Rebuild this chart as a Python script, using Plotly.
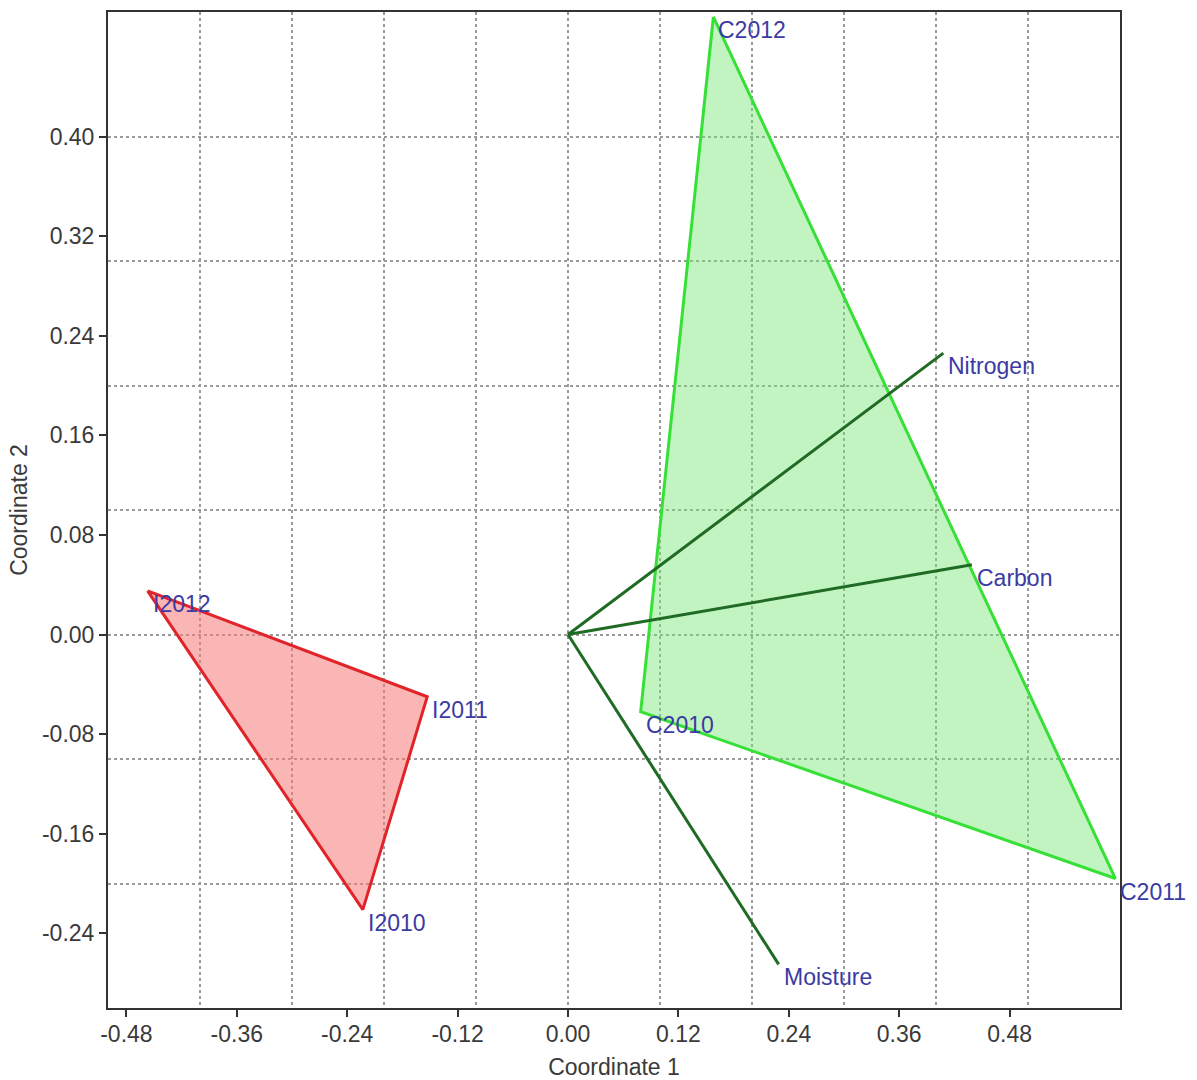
import plotly.graph_objects as go

# ---- data ----
impact_labels = ["I2012", "I2011", "I2010"]
impact_x = [-0.457, -0.153, -0.223]
impact_y = [0.035, -0.050, -0.221]

control_labels = ["C2012", "C2011", "C2010"]
control_x = [0.158, 0.595, 0.079]
control_y = [0.496, -0.196, -0.062]

vector_labels = ["Nitrogen", "Carbon", "Moisture"]
vector_x = [0.408, 0.439, 0.229]
vector_y = [0.226, 0.056, -0.265]

x_ticks = [-0.48, -0.36, -0.24, -0.12, 0.00, 0.12, 0.24, 0.36, 0.48]
y_ticks = [-0.24, -0.16, -0.08, 0.00, 0.08, 0.16, 0.24, 0.32, 0.40]
x_range = [-0.5, 0.6]
y_range = [-0.3, 0.5]

FONT = "Liberation Sans, Arial, sans-serif"
LABEL_COLOR = "#3b3ba3"
TICK_COLOR = "#3a3a3a"
FS = 23

fig = go.Figure()

# grid carrier (overlay axes with 0.1 grid)
fig.add_trace(go.Scatter(x=[], y=[], xaxis="x2", yaxis="y2", showlegend=False, hoverinfo="skip"))

# impact polygon
fig.add_trace(go.Scatter(
    x=impact_x + impact_x[:1], y=impact_y + impact_y[:1],
    mode="lines", fill="toself",
    fillcolor="rgba(245,120,120,0.55)",
    line=dict(color="#e0242a", width=3),
    showlegend=False, hoverinfo="skip"))

# control polygon
fig.add_trace(go.Scatter(
    x=control_x + control_x[:1], y=control_y + control_y[:1],
    mode="lines", fill="toself",
    fillcolor="rgba(120,230,120,0.45)",
    line=dict(color="#36e036", width=3),
    showlegend=False, hoverinfo="skip"))

# biplot vectors
for vx, vy in zip(vector_x, vector_y):
    fig.add_trace(go.Scatter(
        x=[0, vx], y=[0, vy], mode="lines",
        line=dict(color="#1f6b24", width=3),
        showlegend=False, hoverinfo="skip"))

# labels
for xs, ys, labs in [(impact_x, impact_y, impact_labels),
                     (control_x, control_y, control_labels),
                     (vector_x, vector_y, vector_labels)]:
    for px, py, lab in zip(xs, ys, labs):
        fig.add_annotation(
            x=px, y=py, text=lab, showarrow=False,
            xanchor="left", yanchor="top", xshift=3, yshift=2,
            font=dict(family=FONT, size=FS, color=LABEL_COLOR))

fig.update_layout(
    width=1197, height=1080,
    margin=dict(l=108, r=77, t=12, b=72),
    paper_bgcolor="white", plot_bgcolor="white",
    showlegend=False,
    xaxis=dict(
        range=x_range, tickmode="array", tickvals=x_ticks,
        ticktext=[f"{v:.2f}" for v in x_ticks],
        showgrid=False, zeroline=False, automargin=False,
        showline=True, linecolor="#333333", linewidth=2, mirror=True,
        ticks="outside", ticklen=7, tickwidth=2, tickcolor="#333333",
        ticklabelstandoff=-3,
        tickfont=dict(family=FONT, size=FS, color=TICK_COLOR),
        title=dict(text="Coordinate 1", standoff=14,
                   font=dict(family=FONT, size=FS, color=TICK_COLOR)),
    ),
    yaxis=dict(
        range=y_range, tickmode="array", tickvals=y_ticks,
        ticktext=[f"{v:.2f}" for v in y_ticks],
        showgrid=False, zeroline=False, automargin=False,
        showline=True, linecolor="#333333", linewidth=2, mirror=True,
        ticks="outside", ticklen=7, tickwidth=2, tickcolor="#333333",
        tickfont=dict(family=FONT, size=FS, color=TICK_COLOR),
        title=dict(text="Coordinate 2", standoff=8,
                   font=dict(family=FONT, size=FS, color=TICK_COLOR)),
    ),
    xaxis2=dict(
        range=x_range, overlaying="x", anchor="y2", tick0=0, dtick=0.1,
        showgrid=True, gridcolor="#9a9a9a", griddash="dot", gridwidth=1.5,
        showticklabels=False, ticks="", zeroline=False, showline=False,
    ),
    yaxis2=dict(
        range=y_range, overlaying="y", anchor="x2", tick0=0, dtick=0.1,
        showgrid=True, gridcolor="#9a9a9a", griddash="dot", gridwidth=1.5,
        showticklabels=False, ticks="", zeroline=False, showline=False,
    ),
)

fig.write_html("out.html")
